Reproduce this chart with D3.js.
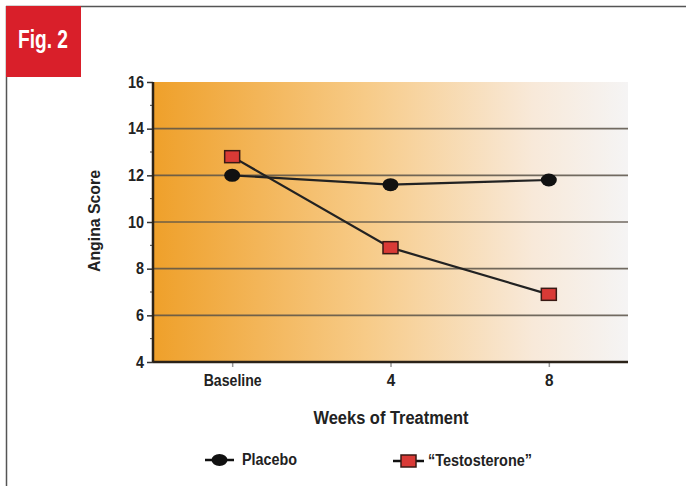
<!DOCTYPE html>
<html><head><meta charset="utf-8">
<script src="https://cdn.jsdelivr.net/npm/d3@7"></script>
<style>
html,body{margin:0;padding:0;background:#fff;}
text{font-family:"Liberation Sans",Arial,sans-serif;font-weight:bold;fill:#222;}
</style></head>
<body><svg id="c" width="686" height="486"></svg>
<script>
const categories = ["Baseline", "4", "8"];
const placebo = [12.0, 11.6, 11.8];
const testosterone = [12.8, 8.9, 6.9];
const yTicks = [4, 6, 8, 10, 12, 14, 16];
const yMinor = [5, 7, 9, 11, 13, 15];
const seriesNames = ["Placebo", "\u201CTestosterone\u201D"];

const svg = d3.select("#c");
const L = 153, R = 628, T = 82, B = 362;

function fit(sel, w){ sel.attr("textLength", w).attr("lengthAdjust","spacingAndGlyphs"); return sel; }

// frame
svg.append("line").attr("x1",6).attr("x2",686).attr("y1",6.5).attr("y2",6.5).attr("stroke","#555").attr("stroke-width",1.5);
svg.append("line").attr("x1",6.5).attr("x2",6.5).attr("y1",6).attr("y2",486).attr("stroke","#555").attr("stroke-width",1.5);
svg.append("rect").attr("x",6).attr("y",6).attr("width",75).attr("height",71).attr("fill","#d91f2a");
fit(svg.append("text").attr("x",18).attr("y",48).style("fill","#fff").style("font-size","25px").text("Fig. 2"), 50);

const defs = svg.append("defs");
const g = defs.append("linearGradient").attr("id","bg").attr("x1","0").attr("x2","1").attr("y1","0").attr("y2","0");
g.append("stop").attr("offset","0%").attr("stop-color","#efa02a");
g.append("stop").attr("offset","45%").attr("stop-color","#f7cb88");
g.append("stop").attr("offset","80%").attr("stop-color","#f8e9d9");
g.append("stop").attr("offset","100%").attr("stop-color","#f5f4f4");

const x = d3.scalePoint().domain(categories).range([L, R]).padding(0.5);
const y = d3.scaleLinear().domain([4, 16]).range([B, T]);

svg.append("rect").attr("x",L).attr("y",T).attr("width",R-L).attr("height",B-T).attr("fill","url(#bg)");

// gridlines
svg.append("g").selectAll("line").data(yTicks.filter(v=>v>4 && v<16)).join("line")
  .attr("x1",L).attr("x2",R).attr("y1",d=>y(d)).attr("y2",d=>y(d))
  .attr("stroke","#5a5348").attr("stroke-width",1.6).attr("opacity",0.85);

// y axis
const ya = svg.append("g").attr("transform",`translate(${L},0)`)
  .call(d3.axisLeft(y).tickValues(yTicks).tickSize(6).tickPadding(3).tickFormat(d3.format("d")));
ya.select(".domain").remove();
ya.attr("font-size",null);
ya.selectAll(".tick line").attr("stroke","#333").attr("stroke-width",1.5);
ya.selectAll(".tick text").style("font-size","16px").style("fill","#222").style("font-family",null)
  .attr("textLength",d=>String(d).length*8).attr("lengthAdjust","spacingAndGlyphs");
svg.append("g").selectAll("line").data(yMinor).join("line")
  .attr("x1",L-3).attr("x2",L).attr("y1",d=>y(d)).attr("y2",d=>y(d)).attr("stroke","#444").attr("stroke-width",1);
svg.append("line").attr("x1",L).attr("x2",L).attr("y1",T).attr("y2",B).attr("stroke","#2a2218").attr("stroke-width",2.5);

// x axis
const xa = svg.append("g").attr("transform",`translate(0,${B})`)
  .call(d3.axisBottom(x).tickSize(5).tickPadding(8));
xa.select(".domain").remove();
xa.attr("font-size",null);
xa.selectAll(".tick line").attr("stroke","#999").attr("stroke-width",1.5);
xa.selectAll(".tick text").style("font-size","16px").style("fill","#222").style("font-family",null)
  .attr("textLength",d=>d.length>1?58:8.5).attr("lengthAdjust","spacingAndGlyphs");
svg.append("line").attr("x1",L).attr("x2",R).attr("y1",B).attr("y2",B).attr("stroke","#2a2218").attr("stroke-width",2.5);

// titles
fit(svg.append("text").attr("x",391).attr("y",424).attr("text-anchor","middle").style("font-size","18px").text("Weeks of Treatment"), 155);
fit(svg.append("text").attr("transform","translate(100,221) rotate(-90)").attr("text-anchor","middle").style("font-size","17px").text("Angina Score"), 102);

// lines
const line = d3.line().x((d,i)=>x(categories[i])).y(d=>y(d));
svg.append("path").attr("d",line(placebo)).attr("fill","none").attr("stroke","#222").attr("stroke-width",2.2);
svg.append("path").attr("d",line(testosterone)).attr("fill","none").attr("stroke","#222").attr("stroke-width",2.2);

svg.append("g").selectAll("ellipse").data(placebo).join("ellipse")
  .attr("cx",(d,i)=>x(categories[i])).attr("cy",d=>y(d)).attr("rx",8).attr("ry",6.5).attr("fill","#111");
svg.append("g").selectAll("rect").data(testosterone).join("rect")
  .attr("x",(d,i)=>x(categories[i])-7.5).attr("y",d=>y(d)-6).attr("width",15).attr("height",12)
  .attr("fill","#d93a36").attr("stroke","#3a1a14").attr("stroke-width",1.5);

// legend
const ly = 460;
svg.append("line").attr("x1",205).attr("x2",234).attr("y1",ly).attr("y2",ly).attr("stroke","#111").attr("stroke-width",2.5);
svg.append("ellipse").attr("cx",219.5).attr("cy",ly).attr("rx",8).attr("ry",6).attr("fill","#111");
fit(svg.append("text").attr("x",242).attr("y",ly+5).style("font-size","16px").text(seriesNames[0]), 55);
svg.append("line").attr("x1",393).attr("x2",424).attr("y1",ly+1).attr("y2",ly+1).attr("stroke","#111").attr("stroke-width",2.5);
svg.append("rect").attr("x",401).attr("y",ly-5).attr("width",15).attr("height",12).attr("fill","#d93a36").attr("stroke","#3a1a14").attr("stroke-width",1.5);
fit(svg.append("text").attr("x",428).attr("y",ly+6).style("font-size","16px").text(seriesNames[1]), 104);
</script></body></html>
